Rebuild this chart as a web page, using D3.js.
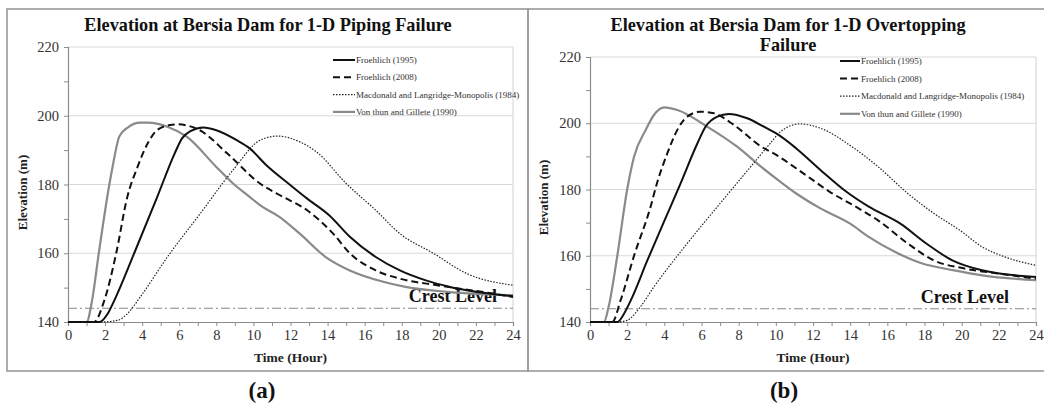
<!DOCTYPE html>
<html>
<head>
<meta charset="utf-8">
<script src="https://cdn.jsdelivr.net/npm/d3@7"></script>
<style>
  html, body { margin: 0; padding: 0; background: #fff; }
  svg { display: block; }
  svg text { font-family: "Liberation Serif", "Times New Roman", "DejaVu Serif", serif; }
</style>
</head>
<body>
<svg id="chart" width="1044" height="408"></svg>
<script>
// --- data: [hour, elevation (m)] ---
const SERIES_NAMES = [
  "Froehlich (1995)",
  "Froehlich (2008)",
  "Macdonald and Langridge-Monopolis (1984)",
  "Von thun and Gillete (1990)"
];
const X_TICKS = [0, 2, 4, 6, 8, 10, 12, 14, 16, 18, 20, 22, 24];
const Y_TICKS = [140, 160, 180, 200, 220];
const CREST_LEVEL = 144;

// (a) piping failure
const pipingFroehlich1995 = [[0,140],[1.7,140],[2.14,142.4],[2.5,146.3],[3.57,160],[4.82,176.5],[5.75,189],[6.16,193.5],[6.6,195.5],[7.3,196.6],[8.0,195.8],[9.1,192.9],[9.8,190.5],[10.7,185.6],[12,179.8],[12.9,175.9],[14.1,171],[15.2,164.8],[16.6,158.9],[17.9,155],[19.3,152.1],[20.6,150.2],[24,147.5]];
const pipingFroehlich2008 = [[0,140],[1.4,140],[1.96,146.3],[2.6,160],[3.2,176.4],[3.75,185.1],[4.3,192],[4.8,195.8],[5.5,197.3],[5.9,197.5],[7.1,195.8],[8.6,189],[10.35,180.3],[11.6,176.4],[12.9,172.5],[14.3,165.7],[15.2,160],[16.6,155],[17.9,152.6],[19.9,150.7],[22.4,148.7],[24,147.3]];
const pipingMacdonald1984 = [[0,140],[1.8,140],[2.7,140.5],[3.2,142.4],[3.9,147.3],[5.36,158.9],[7.14,171.6],[8.9,184.2],[10.4,193],[11.3,194.1],[12.5,192.4],[13.4,189.5],[15,180.3],[16.6,172.5],[17.9,165.7],[19.7,160],[21.5,154.1],[24,150.7]];
const pipingVonThun1990 = [[0,140],[1.0,140],[1.3,146.3],[1.66,160],[2.23,180],[2.4,185],[2.77,194],[3.2,196.5],[3.9,198],[4.3,198],[5.36,196.8],[6.4,193.9],[8.0,185.1],[8.9,180.3],[9.8,176.4],[10.35,174],[11.4,170.6],[12.5,165.7],[13.9,158.9],[15.2,155],[17,151.7],[18.2,150.2],[20.6,148.7],[24,147.8]];

// (b) overtopping failure
const overtopFroehlich1995 = [[0,140],[1.47,140],[1.83,142.5],[2.2,146.6],[3.08,158.5],[4.0,170.5],[4.87,181.8],[5.77,193.8],[6.2,198.8],[6.85,202],[7.47,202.8],[8.46,201.5],[9.5,198.5],[10,197],[11.1,192.4],[12.4,185.9],[13.8,179.3],[15,174.8],[16.7,169.7],[18.1,163.7],[19.5,158.6],[21.1,155.6],[24,153.6]];
const overtopFroehlich2008 = [[0,140],[1.2,140],[1.65,146.6],[2.37,160],[3.26,174.8],[3.6,181.8],[4.16,190.9],[4.7,198],[5.23,202],[5.95,203.5],[6.67,203],[7.74,199.5],[9.2,193],[10,190.5],[11.5,184.8],[12.9,179.3],[14.3,174.8],[15.5,170.7],[17.1,163.7],[18.5,158.6],[20.2,156.1],[22,154.6],[24,153.1]];
const overtopMacdonald1984 = [[0,140],[1.47,140],[2.0,140.5],[2.7,144.5],[3.44,150.6],[5.23,163.7],[7.0,175.8],[8.8,187.9],[9.74,194.2],[10.26,197.5],[11.3,199.8],[12.4,198.5],[14.1,192.9],[15.5,186.9],[17.1,178.8],[18.5,172.8],[19.9,167.7],[21.1,162.7],[22.3,159.7],[24,157.1]];
const overtopVonThun1990 = [[0,140],[0.75,140],[1.0,144.5],[1.47,160],[2.0,180],[2.37,189.9],[3.0,198],[3.44,202.5],[4.0,204.8],[4.7,204],[6.3,199],[7.9,193],[9.2,186.9],[10.25,182.3],[11.1,178.8],[12.4,174.3],[14,169.7],[15,165.7],[16.4,161.2],[17.8,157.8],[19.6,155.6],[21.1,154.1],[24,152.6]];

// line styles, same order as SERIES_NAMES
const STYLES = [
  { stroke: "#111", width: 2,   dash: null },
  { stroke: "#111", width: 2,   dash: "7,4" },
  { stroke: "#222", width: 1.2, dash: "1.5,1.5" },
  { stroke: "#8a8a8a", width: 2.2, dash: null }
];

const FONT = "Liberation Serif, Times New Roman, DejaVu Serif, serif";

const panels = [
  {
    frame: [7, 9, 521, 362],
    plot: { left: 68, right: 513, top: 47, bottom: 322 },
    title: ["Elevation at Bersia Dam for 1-D Piping Failure"],
    titleX: 268, titleY: 31,
    legend: { x0: 333, x1: 355, y: 60, step: 17.3 },
    crestEnd: 497,
    yLabelX: 27,
    tag: "(a)", tagX: 262,
    series: [pipingFroehlich1995, pipingFroehlich2008, pipingMacdonald1984, pipingVonThun1990]
  },
  {
    frame: [528, 9, 530, 362],
    plot: { left: 590, right: 1036, top: 57, bottom: 322 },
    title: ["Elevation at Bersia Dam for 1-D Overtopping", "Failure"],
    titleX: 788, titleY: 31,
    legend: { x0: 840, x1: 860, y: 61, step: 17.6 },
    crestEnd: 1009,
    yLabelX: 548,
    tag: "(b)", tagX: 784,
    series: [overtopFroehlich1995, overtopFroehlich2008, overtopMacdonald1984, overtopVonThun1990]
  }
];

const svg = d3.select("#chart");

panels.forEach(p => {
  const g = svg.append("g");

  // panel frame
  g.append("rect")
    .attr("x", p.frame[0]).attr("y", p.frame[1])
    .attr("width", p.frame[2]).attr("height", p.frame[3])
    .attr("fill", "none").attr("stroke", "#9a9a9a").attr("stroke-width", 1.6);

  const x = d3.scaleLinear().domain([0, 24]).range([p.plot.left, p.plot.right]);
  const y = d3.scaleLinear().domain([140, 220]).range([p.plot.bottom, p.plot.top]);

  // gridlines + plot border
  g.selectAll(".grid").data(Y_TICKS.slice(1)).enter().append("line")
    .attr("x1", x(0)).attr("x2", x(24))
    .attr("y1", d => y(d)).attr("y2", d => y(d))
    .attr("stroke", "#d9d9d9").attr("stroke-width", 1.2);
  g.append("line")
    .attr("x1", x(24)).attr("x2", x(24)).attr("y1", y(220)).attr("y2", y(140))
    .attr("stroke", "#d9d9d9").attr("stroke-width", 1.2);

  // axes
  const yAxis = g.append("g").attr("transform", `translate(${x(0)},0)`)
    .call(d3.axisLeft(y).tickValues(d3.range(140, 221, 10)).tickSize(4).tickFormat(d => Y_TICKS.includes(d) ? d : ""));
  const xAxis = g.append("g").attr("transform", `translate(0,${y(140)})`)
    .call(d3.axisBottom(x).tickValues(d3.range(0, 25, 1)).tickSize(4).tickFormat(d => X_TICKS.includes(d) ? d : ""));
  [yAxis, xAxis].forEach(a => {
    a.attr("font-family", FONT);
    a.select(".domain").attr("stroke", "#8c8c8c").attr("stroke-width", 1.2);
    a.selectAll(".tick line").attr("stroke", "#8c8c8c");
    a.selectAll("text").attr("font-size", 14.5).attr("fill", "#333");
  });
  yAxis.selectAll("text").attr("x", -9);
  xAxis.selectAll("text").attr("y", 8);

  // crest level
  g.append("line")
    .attr("x1", x(0)).attr("x2", x(24))
    .attr("y1", y(CREST_LEVEL)).attr("y2", y(CREST_LEVEL))
    .attr("stroke", "#888").attr("stroke-width", 1.1).attr("stroke-dasharray", "9,3,2,3");
  g.append("text")
    .attr("x", p.crestEnd).attr("y", y(CREST_LEVEL) - 6)
    .attr("text-anchor", "end").attr("font-family", FONT).attr("font-weight", "bold").attr("font-size", 18)
    .attr("fill", "#111").text("Crest Level");

  // series, drawn gray first so black lines sit on top
  const line = d3.line().x(d => x(d[0])).y(d => y(d[1])).curve(d3.curveMonotoneX);
  [3, 2, 1, 0].forEach(i => {
    const s = STYLES[i];
    g.append("path").datum(p.series[i])
      .attr("fill", "none").attr("stroke", s.stroke).attr("stroke-width", s.width)
      .attr("stroke-dasharray", s.dash).attr("stroke-linejoin", "round")
      .attr("d", line);
  });

  // legend
  SERIES_NAMES.forEach((name, i) => {
    const ly = p.legend.y + i * p.legend.step;
    const s = STYLES[i];
    g.append("line")
      .attr("x1", p.legend.x0).attr("x2", p.legend.x1).attr("y1", ly).attr("y2", ly)
      .attr("stroke", s.stroke).attr("stroke-width", s.width).attr("stroke-dasharray", s.dash);
    g.append("text")
      .attr("x", p.legend.x1 + 1).attr("y", ly + 3)
      .attr("font-family", FONT).attr("font-size", 9).attr("fill", "#333").text(name);
  });

  // titles
  p.title.forEach((t, i) => {
    g.append("text")
      .attr("x", p.titleX).attr("y", p.titleY + i * 20)
      .attr("text-anchor", "middle").attr("font-family", FONT).attr("font-weight", "bold").attr("font-size", 18.3)
      .attr("fill", "#111").text(t);
  });
  g.append("text")
    .attr("transform", `translate(${p.yLabelX},${(y(140) + y(220)) / 2 + 8}) rotate(-90)`)
    .attr("text-anchor", "middle").attr("font-family", FONT).attr("font-weight", "bold").attr("font-size", 13)
    .attr("fill", "#222").text("Elevation (m)");
  g.append("text")
    .attr("x", (x(0) + x(24)) / 2).attr("y", 362)
    .attr("text-anchor", "middle").attr("font-family", FONT).attr("font-weight", "bold").attr("font-size", 13.5)
    .attr("fill", "#222").text("Time (Hour)");
  g.append("text")
    .attr("x", p.tagX).attr("y", 398)
    .attr("text-anchor", "middle").attr("font-family", FONT).attr("font-weight", "bold").attr("font-size", 23)
    .attr("fill", "#111").text(p.tag);
});
</script>
</body>
</html>
